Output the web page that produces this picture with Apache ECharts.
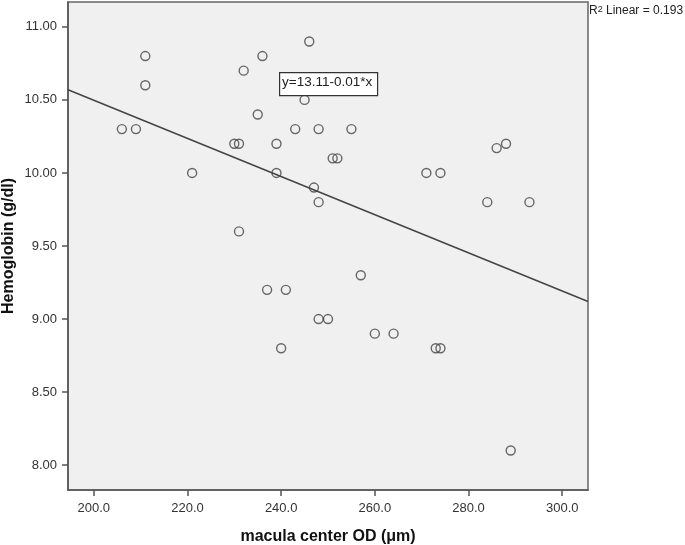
<!DOCTYPE html>
<html>
<head>
<meta charset="utf-8">
<script src="https://cdn.jsdelivr.net/npm/echarts@6/dist/echarts.min.js"></script>
<style>
  html, body { margin: 0; padding: 0; background: #fff; }
  #chart { width: 685px; height: 545px; }
</style>
</head>
<body>
<div id="chart"></div>
<script>
// macula center OD (µm) vs Hemoglobin (g/dl)
const thickness = [206, 209, 211, 211, 221, 230, 231, 231, 232, 235,
  236, 237, 239, 239, 240, 241, 243, 245, 246, 247,
  248, 248, 248, 250, 251, 252, 255, 257, 260, 264,
  271, 273, 274, 274, 284, 286, 288, 289, 293]
const hemoglobin = [10.3, 10.3, 10.8, 10.6, 10.0, 10.2, 10.2, 9.6, 10.7, 10.4,
  10.8, 9.2, 10.2, 10.0, 8.8, 9.2, 10.3, 10.5, 10.9, 9.9,
  10.3, 9.8, 9.0, 9.0, 10.1, 10.1, 10.3, 9.3, 8.9, 8.9,
  10.0, 8.8, 8.8, 10.0, 9.8, 10.17, 10.2, 8.1, 9.8]

// fit line (intercept / slope) and axis ranges
const fitIntercept = 13.11
const fitSlope = -0.01306
const xRange = [194.5, 305.5]
const yRange = [7.83, 11.17]
const xTicks = [200, 220, 240, 260, 280, 300]
const yTicks = [8, 8.5, 9, 9.5, 10, 10.5, 11]

const fitLine = xRange.map(x => [x, fitIntercept + fitSlope * x])
const points = thickness.map((x, i) => [x, hemoglobin[i]])

const chart = echarts.init(document.getElementById('chart'))

const axisColor = '#555'
const labelColor = '#333'
const fontFamily = '"Liberation Sans", Arial, sans-serif'

chart.setOption({
  animation: false,
  grid: {
    left: 68,
    right: 97,
    top: 2,
    bottom: 55,
    outerBoundsMode: 'none',
    containLabel: false,
    show: true,
    backgroundColor: '#f0f0f0',
    borderColor: '#666',
    borderWidth: 1.5
  },
  xAxis: {
    type: 'value',
    min: xRange[0],
    max: xRange[1],
    name: 'macula center OD (μm)',
    nameLocation: 'middle',
    nameGap: 39,
    nameMoveOverlap: false,
    nameTextStyle: { fontFamily, fontSize: 16, fontWeight: 'bold', color: '#111' },
    axisLine: { show: true, lineStyle: { color: axisColor, width: 1.5 } },
    axisTick: { show: true, length: 6, customValues: xTicks, lineStyle: { color: axisColor, width: 1.5 } },
    axisLabel: {
      customValues: xTicks,
      formatter: v => Number(v).toFixed(1),
      color: labelColor, fontFamily, fontSize: 13, margin: 12
    },
    splitLine: { show: false }
  },
  yAxis: {
    type: 'value',
    min: yRange[0],
    max: yRange[1],
    name: 'Hemoglobin (g/dl)',
    nameLocation: 'middle',
    nameGap: 51,
    nameMoveOverlap: false,
    nameTextStyle: { fontFamily, fontSize: 16, fontWeight: 'bold', color: '#111' },
    axisLine: { show: true, lineStyle: { color: axisColor, width: 1.5 } },
    axisTick: { show: true, length: 6, customValues: yTicks, lineStyle: { color: axisColor, width: 1.5 } },
    axisLabel: {
      customValues: yTicks,
      formatter: v => Number(v).toFixed(2),
      color: labelColor, fontFamily, fontSize: 13, margin: 11
    },
    splitLine: { show: false }
  },
  series: [
    {
      type: 'line',
      data: fitLine,
      symbol: 'none',
      lineStyle: { color: '#444', width: 1.5 },
      z: 2
    },
    {
      type: 'scatter',
      data: points,
      symbol: 'circle',
      symbolSize: 9,
      itemStyle: { color: 'transparent', borderColor: '#444', borderWidth: 1.4 },
      z: 3
    }
  ],
  graphic: [
    {
      type: 'rect',
      left: 279,
      top: 72,
      shape: { width: 98, height: 23 },
      style: { fill: '#fff', stroke: '#333', lineWidth: 1.2 },
      z: 10
    },
    {
      type: 'text',
      left: 282,
      top: 75,
      style: { text: 'y=13.11-0.01*x', fontFamily, fontSize: 13.5, fill: '#222' },
      z: 11
    },
    {
      type: 'text',
      left: 589,
      top: 5,
      style: {
        text: '{a|R}{s|2}{a| Linear = 0.193}',
        rich: {
          a: { fontFamily, fontSize: 12, fill: '#222', verticalAlign: 'bottom' },
          s: { fontFamily, fontSize: 9, fill: '#222', verticalAlign: 'top' }
        }
      },
      z: 11
    }
  ]
})
</script>
</body>
</html>
